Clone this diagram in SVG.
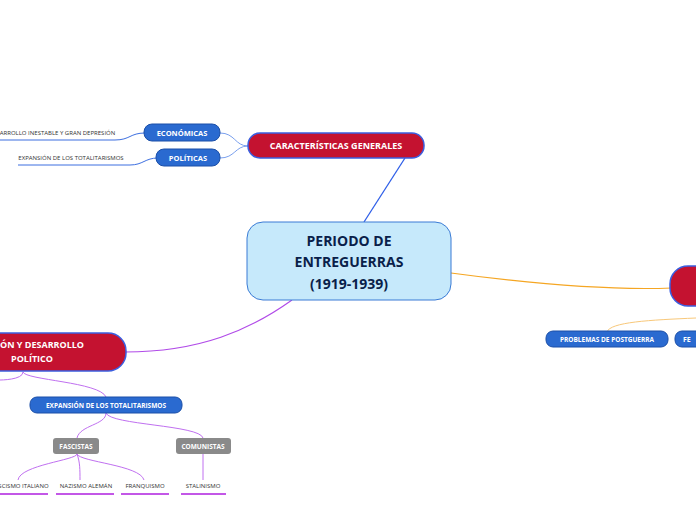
<svg xmlns="http://www.w3.org/2000/svg" width="696" height="520" viewBox="0 0 696 520">
<style>
text{font-family:"Open Sans","Noto Sans","DejaVu Sans",sans-serif}
.red{fill:#c41230;stroke:#3b5fe0;stroke-width:1.5}
.blue{fill:#2a6ad0;stroke:#1b4fa8;stroke-width:1}
.gray{fill:#8a8a8a}
.wt{fill:#fff;font-weight:bold;text-anchor:middle}
.st{text-anchor:start}
.lt{fill:#333;font-size:6px;text-anchor:middle}
.c{fill:none}
</style>
<rect width="696" height="520" fill="#fff"/>
<g id="connectors">
<path class="c" stroke="#2f5fe8" stroke-width="1.3" d="M364 222 L405 158"/>
<path class="c" stroke="#7aa0ee" d="M248 146 C235 146 235 133 220 133 M248 146 C235 146 235 158 220 158"/>
<path class="c" stroke="#3d6fe0" d="M145 133 C130 133 130 140 115 140 L0 140 M158 158 C145 158 143 165 130 165 L18 165"/>
<path class="c" stroke="#f5a623" stroke-width="1.2" d="M451 273 C540 285 620 290 672 288"/>
<path class="c" stroke="#f8c87a" d="M607 332 C610 322 650 320 696 318"/>
<path class="c" stroke="#b14be8" stroke-width="1.2" d="M292 300 C250 330 200 352 125 352"/>
<path class="c" stroke="#c070f0" d="M23 372 C23 380 0 380 0 380 M23 372 C25 380 100 382 106 397"/>
<path class="c" stroke="#c070f0" d="M106 413 C106 425 80 425 77 438 M106 413 C110 425 200 425 203 438 M77 454 C77 460 20 465 18 480 M77 454 C80 462 80 470 80 480 M77 454 C80 462 140 465 144 480 M203 454 L203 480"/>
<path class="c" stroke="#b020e0" stroke-width="1.5" d="M0 494 L48 494 M56 494 L114 494 M121 494 L169 494 M181 494 L226 494"/>
</g>
<g id="center"><rect x="247" y="222" width="204" height="78" rx="16" fill="#c6e9fb" stroke="#3a7bd5" stroke-width="1"/>
<text x="349" y="246" text-anchor="middle" font-size="14" font-weight="bold" fill="#0a1f4a">PERIODO DE</text>
<text x="349" y="267" text-anchor="middle" font-size="14" font-weight="bold" fill="#0a1f4a">ENTREGUERRAS</text>
<text x="349" y="289" text-anchor="middle" font-size="14" font-weight="bold" fill="#0a1f4a">(1919-1939)</text></g>
<g id="caracteristicas"><rect class="red" x="248" y="133" width="176" height="25" rx="12"/><text class="wt" x="336" y="149" font-size="9">CARACTERÍSTICAS GENERALES</text></g>
<g id="economicas"><rect class="blue" x="144" y="124" width="76" height="17" rx="8"/><text class="wt" x="182" y="136" font-size="7.5">ECONÓMICAS</text></g>
<g id="politicas"><rect class="blue" x="156" y="149" width="64" height="17" rx="8"/><text class="wt" x="188" y="161" font-size="7.5">POLÍTICAS</text></g>
<g id="desarrollo"><text class="lt" x="52" y="135">DESARROLLO INESTABLE Y GRAN DEPRESIÓN</text></g>
<g id="expansion1"><text class="lt" x="71" y="160">EXPANSIÓN DE LOS TOTALITARISMOS</text></g>
<g id="right"><rect class="red" x="670" y="266" width="60" height="40" rx="18"/></g>
<g id="problemas"><rect class="blue" x="546" y="331" width="122" height="16" rx="7"/><text class="wt" x="607" y="342" font-size="6.5">PROBLEMAS DE POSTGUERRA</text></g>
<g id="fe"><rect class="blue" x="675" y="331" width="40" height="16" rx="7"/><text class="wt st" x="683" y="342" font-size="7">FE</text></g>
<g id="evolucion"><rect class="red" x="-40" y="333" width="166" height="38" rx="18"/>
<text class="wt st" x="0" y="348" font-size="9">ÓN Y DESARROLLO</text>
<text class="wt st" x="11" y="362" font-size="9">POLÍTICO</text></g>
<g id="expansion2"><rect class="blue" x="30" y="397" width="152" height="16" rx="7"/><text class="wt" x="106" y="408" font-size="6.5">EXPANSIÓN DE LOS TOTALITARISMOS</text></g>
<g id="fascistas"><rect class="gray" x="53" y="438" width="46" height="16" rx="3"/><text class="wt" x="76" y="449" font-size="6.5">FASCISTAS</text></g>
<g id="comunistas"><rect class="gray" x="176" y="438" width="55" height="16" rx="3"/><text class="wt" x="203" y="449" font-size="6.5">COMUNISTAS</text></g>
<g id="leaves">
<text class="lt" x="20" y="488">FASCISMO ITALIANO</text>
<text class="lt" x="86" y="488">NAZISMO ALEMÁN</text>
<text class="lt" x="145" y="488">FRANQUISMO</text>
<text class="lt" x="203" y="488">STALINISMO</text></g>
</svg>
